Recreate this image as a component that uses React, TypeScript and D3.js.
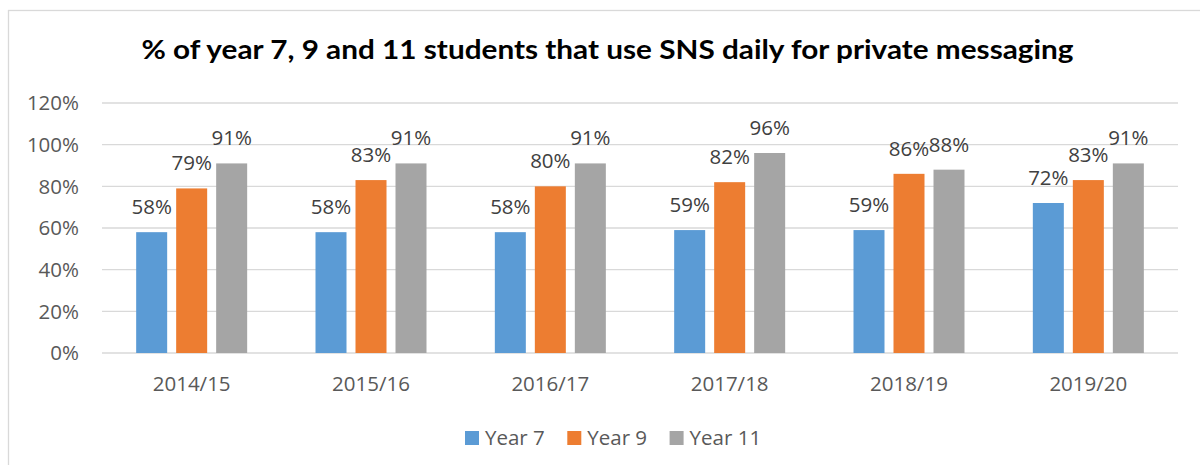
import React, { useRef, useEffect } from "react";
import * as d3 from "d3";

const categories = ["2014/15", "2015/16", "2016/17", "2017/18", "2018/19", "2019/20"];
const seriesNames = ["Year 7", "Year 9", "Year 11"];
const year7 = [58, 58, 58, 59, 59, 72];
const year9 = [79, 83, 80, 82, 86, 83];
const year11 = [91, 91, 91, 96, 88, 91];
const yTicks = [0, 20, 40, 60, 80, 100, 120];

const colors = ["#5B9BD5", "#ED7D31", "#A5A5A5"];
const gridColor = "#D9D9D9";
const tickColor = "#595959";
const valueColor = "#404040";
const font = "'Open Sans', 'Noto Sans', sans-serif";
const title = "% of year 7, 9 and 11 students that use SNS daily for private messaging";

const width = 1200;
const height = 465;

export default function App() {
  const svgRef = useRef<SVGSVGElement>(null);

  useEffect(() => {
    if (!svgRef.current) return;
    const svg = d3.select(svgRef.current);
    svg.selectAll("*").remove();

    const plot = { left: 102, right: 1178, top: 103, bottom: 353 };
    const series = [year7, year9, year11];

    // chart frame
    svg.append("rect")
      .attr("x", 8.5).attr("y", 10.5)
      .attr("width", 1400).attr("height", 800)
      .attr("fill", "#fff")
      .attr("stroke", gridColor)
      .attr("stroke-width", 1.3);

    svg.append("text")
      .attr("x", 141.5)
      .attr("y", 58.5)
      .attr("font-family", "Lato, 'Open Sans', sans-serif")
      .attr("font-weight", 700)
      .attr("font-size", 27)
      .attr("fill", "#000")
      .attr("textLength", 932)
      .attr("lengthAdjust", "spacingAndGlyphs")
      .text(title);

    const x = d3.scaleBand<string>().domain(categories).range([plot.left, plot.right]);
    const groupWidth = 111;
    const xInner = d3.scaleBand<string>()
      .domain(seriesNames)
      .range([0, groupWidth])
      .paddingInner(0.225);
    const y = d3.scaleLinear().domain([0, 120]).range([plot.bottom, plot.top]);

    // gridlines
    svg.append("g")
      .selectAll("line")
      .data(yTicks)
      .join("line")
      .attr("x1", plot.left)
      .attr("x2", plot.right)
      .attr("y1", (d) => y(d))
      .attr("y2", (d) => y(d))
      .attr("stroke", gridColor)
      .attr("stroke-width", 1.3);

    svg.append("g")
      .selectAll("text")
      .data(yTicks)
      .join("text")
      .attr("x", 79)
      .attr("y", (d) => y(d))
      .attr("dy", "0.35em")
      .attr("text-anchor", "end")
      .attr("font-family", font)
      .attr("font-size", 20.5)
      .attr("fill", tickColor)
      .text((d) => `${d}%`);

    // bars
    const groups = svg.append("g")
      .selectAll("g")
      .data(categories)
      .join("g")
      .attr("transform", (c) => `translate(${x(c)! + x.bandwidth() / 2 - groupWidth / 2},0)`);

    seriesNames.forEach((name, si) => {
      groups.append("rect")
        .attr("x", xInner(name)!)
        .attr("width", xInner.bandwidth())
        .attr("y", (_c, i) => y(series[si][i]))
        .attr("height", (_c, i) => y(0) - y(series[si][i]))
        .attr("fill", colors[si]);

      groups.append("text")
        .attr("x", xInner(name)! + xInner.bandwidth() / 2)
        .attr("y", (_c, i) => y(series[si][i]) - 18)
        .attr("text-anchor", "middle")
        .attr("font-family", font)
        .attr("font-size", 20.5)
        .attr("fill", valueColor)
        .text((_c, i) => `${series[si][i]}%`);
    });

    // category labels
    svg.append("g")
      .selectAll("text")
      .data(categories)
      .join("text")
      .attr("x", (c) => x(c)! + x.bandwidth() / 2)
      .attr("y", 391)
      .attr("text-anchor", "middle")
      .attr("font-family", font)
      .attr("font-size", 20.5)
      .attr("fill", tickColor)
      .text((c) => c);

    // legend
    let lx = 465;
    seriesNames.forEach((name, si) => {
      svg.append("rect")
        .attr("x", lx).attr("y", 431)
        .attr("width", 14).attr("height", 14)
        .attr("fill", colors[si]);
      const t = svg.append("text")
        .attr("x", lx + 20)
        .attr("y", 445)
        .attr("font-family", font)
        .attr("font-size", 20.5)
        .attr("fill", tickColor)
        .text(name);
      const tw = (t.node() as SVGTextElement).getComputedTextLength();
      lx += 20 + tw + 22.5;
    });
  }, []);

  return (
    <svg
      ref={svgRef}
      width={width}
      height={height}
      style={{ position: "absolute", left: 0, top: 0, display: "block" }}
    />
  );
}
